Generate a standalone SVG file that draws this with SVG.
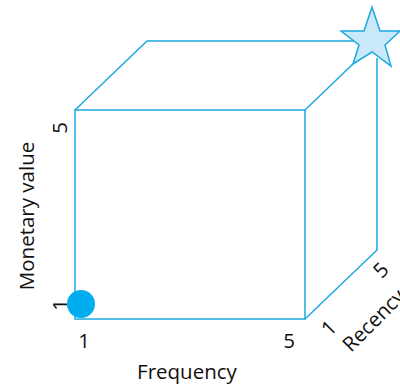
<svg xmlns="http://www.w3.org/2000/svg" width="400" height="384" viewBox="0 0 400 384">
<style>
.e{fill:none;stroke:#1aa9e0;stroke-width:1.5;stroke-linejoin:miter}
.t{font-family:"Open Sans","Liberation Sans",sans-serif;font-size:20.5px;fill:#111}
</style>
<rect width="400" height="384" fill="#fff"/>
<g id="connectors">
<path class="e" d="M75,110 L147,41 L360,41"/>
<path class="e" d="M305,110 L355,62"/>
<path class="e" d="M377,58 L377,250 L305,319"/>
<rect class="e" x="75" y="110" width="230" height="209"/>
</g>
<g id="star">
<polygon points="372,7 380,31 400,31 385,45 391,66 372,52 353,64 359,45 341,31 364,31" fill="#c9e9f8" stroke="#1aa9e0" stroke-width="1.5" stroke-linejoin="miter"/>
</g>
<g id="dot">
<circle cx="81" cy="304" r="14" fill="#00aeef"/>
</g>
<g id="labels">
<text class="t" transform="translate(34,216) rotate(-90)" text-anchor="middle">Monetary value</text>
<text class="t" transform="translate(67,128) rotate(-90)" text-anchor="middle">5</text>
<text class="t" transform="translate(67,305) rotate(-90)" text-anchor="middle">1</text>
<text class="t" x="84" y="348" text-anchor="middle">1</text>
<text class="t" x="289" y="348" text-anchor="middle">5</text>
<text class="t" x="187" y="379" text-anchor="middle">Frequency</text>
<text class="t" transform="translate(334,333) rotate(-45)" text-anchor="middle">1</text>
<text class="t" transform="translate(386,275) rotate(-45)" text-anchor="middle">5</text>
<text class="t" transform="translate(351,353) rotate(-45)">Recency</text>
</g>
</svg>
